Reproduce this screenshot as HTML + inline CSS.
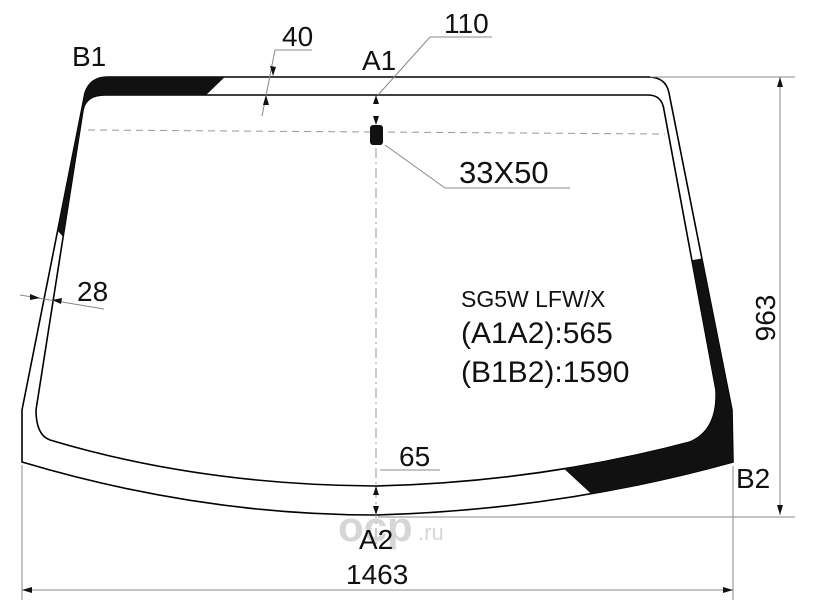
<!DOCTYPE html>
<html><head><style>body{margin:0;background:#fff}svg{display:block}</style></head><body>
<svg width="816" height="612" viewBox="0 0 816 612" xmlns="http://www.w3.org/2000/svg" font-family="Liberation Sans, Arial, sans-serif">
<defs>
<clipPath id="c1"><polygon points="0,0 230,0 230,72 203,98 66,240 0,167"/></clipPath>
<clipPath id="c2"><polygon points="816,238 682,262 560,465 600,502 816,612"/></clipPath>
</defs>
<!-- watermark -->
<text x="338" y="541" font-size="42" font-weight="bold" fill="#d6d6d6">ocp</text>
<text x="418" y="540" font-size="22" fill="#d6d6d6">.ru</text>
<path d="M108,77 L648,77 Q666,77 669,93 L732,410 L733,462 Q560,510 375,515 Q200,515 22,462 L22,410 L85,93 Q90,77 108,77 Z" fill="none" stroke="#000" stroke-width="1.6"/>
<path d="M105,95 L648,95 Q662,95 664,110 L716,390 Q718,430 690,442 Q540,482 375,486 Q200,485 50,440 Q36,435 36,410 L83,110 Q86,95 105,95 Z" fill="none" stroke="#000" stroke-width="1.6"/>
<g fill="#111" fill-rule="evenodd">
<path clip-path="url(#c1)" d="M108,77 L648,77 Q666,77 669,93 L732,410 L733,462 Q560,510 375,515 Q200,515 22,462 L22,410 L85,93 Q90,77 108,77 Z M105,95 L648,95 Q662,95 664,110 L716,390 Q718,430 690,442 Q540,482 375,486 Q200,485 50,440 Q36,435 36,410 L83,110 Q86,95 105,95 Z"/>
<path clip-path="url(#c2)" d="M108,77 L648,77 Q666,77 669,93 L732,410 L733,462 Q560,510 375,515 Q200,515 22,462 L22,410 L85,93 Q90,77 108,77 Z M105,95 L648,95 Q662,95 664,110 L716,390 Q718,430 690,442 Q540,482 375,486 Q200,485 50,440 Q36,435 36,410 L83,110 Q86,95 105,95 Z"/>
</g>
<line x1="88" y1="130" x2="665" y2="134" stroke="#999" stroke-width="1" stroke-dasharray="7,5"/>
<line x1="376" y1="148" x2="376" y2="545" stroke="#999" stroke-width="1" stroke-dasharray="10,4,2,4"/>
<rect x="370" y="125" width="13" height="20" rx="3" fill="#111"/>
<g stroke="#888" stroke-width="1" fill="none">
<line x1="275" y1="50" x2="312" y2="50"/><line x1="275" y1="50" x2="262" y2="116"/>
<line x1="430" y1="37" x2="492" y2="37"/><line x1="430" y1="37" x2="378" y2="95"/>
<line x1="385" y1="145" x2="445" y2="188"/><line x1="445" y1="188" x2="570" y2="188"/>
<line x1="20" y1="295" x2="104" y2="309"/>
<line x1="380" y1="470" x2="440" y2="470"/>
<line x1="650" y1="77" x2="795" y2="77"/><line x1="378" y1="517" x2="795" y2="517"/>
<line x1="780" y1="77" x2="780" y2="515"/>
<line x1="22" y1="465" x2="22" y2="600"/><line x1="733" y1="466" x2="733" y2="600"/>
<line x1="22" y1="590" x2="733" y2="590"/>
</g>
<g fill="#111">
<polygon points="376,95 373,104 379,104"/><polygon points="376,125 373,116 379,116"/>
<polygon points="376,486 373,495 379,495"/><polygon points="376,515 373,506 379,506"/>
<polygon points="273,76 270,66 276,67"/><polygon points="266,95 263,105 269,105"/>
<polygon points="40,298 30,294 30,300"/><polygon points="52,300 62,298 61,304"/>
<polygon points="780,515 777,505 783,505"/><polygon points="780,77 777,87 783,87"/>
<polygon points="733,590 723,587 723,593"/><polygon points="22,590 32,587 32,593"/>
</g>
<g fill="#111" font-size="28">
<text x="72" y="66">B1</text>
<text x="362" y="70">A1</text>
<text x="736" y="488">B2</text>
<text x="359" y="549">A2</text>
<text x="282" y="46">40</text>
<text x="444" y="33">110</text>
<text x="459" y="183" font-size="31">33X50</text>
<text x="77" y="301">28</text>
<text x="399" y="466">65</text>
<text x="346" y="584">1463</text>
<text transform="translate(775,318) rotate(-90)" text-anchor="middle">963</text>
<text x="461" y="307" font-size="23">SG5W LFW/X</text>
<text x="461" y="343" font-size="30">(A1A2):565</text>
<text x="461" y="382" font-size="30">(B1B2):1590</text>
</g>
</svg>
</body></html>
